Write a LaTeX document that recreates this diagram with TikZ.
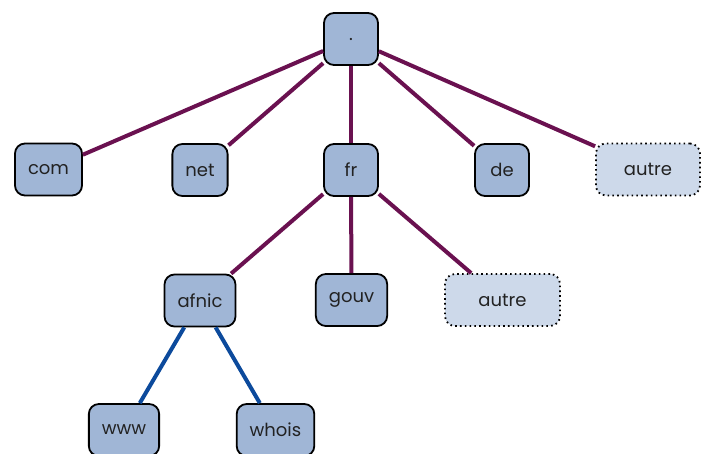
\documentclass[tikz,border=0pt]{standalone}
\usepackage{fontspec}
\setmainfont{Poppins}
\definecolor{domfill}{HTML}{A0B6D6}
\definecolor{otherfill}{HTML}{CDD9EA}
\definecolor{tldlink}{HTML}{6A1150}
\definecolor{hostlink}{HTML}{0C4A9C}
\definecolor{textcol}{HTML}{222222}
\tikzset{
  dom/.style={draw=black, line width=1.8pt, fill=domfill, rounded corners=10pt,
    minimum width=54pt, minimum height=52pt, inner xsep=13pt,
    font=\fontsize{18}{21}\selectfont, text=textcol},
  other/.style={dom, fill=otherfill, line width=1.8pt,
    dash pattern=on 1.6pt off 3.2pt},
  tld/.style={draw=tldlink, line width=4pt},
  host/.style={draw=hostlink, line width=4pt}
}
\begin{document}
\begin{tikzpicture}[x=1pt,y=-1pt]
\useasboundingbox (0,0) rectangle (702,453);
% root and top-level domains
\node[dom] (root) at (351,39) {.};
\node[dom] (com) at (48.5,169.5) {com};
\node[dom] (net) at (200,170) {net};
\node[dom] (fr) at (351,170) {fr};
\node[dom] (de) at (502,170) {de};
\node[other, minimum width=104pt] (autre1) at (648,169.5) {autre};
% second level under fr
\node[dom] (afnic) at (200,300.5) {afnic};
\node[dom] (gouv) at (351.5,300) {gouv};
\node[other, minimum width=115pt] (autre2) at (502.5,300) {autre};
% hosts under afnic
\node[dom] (www) at (124,430) {www};
\node[dom] (whois) at (275.5,430) {whois};
% links
\foreach \t in {com,net,fr,de,autre1} \draw[tld] (root) -- (\t);
\foreach \t in {afnic,gouv,autre2} \draw[tld] (fr) -- (\t);
\foreach \t in {www,whois} \draw[host] (afnic) -- (\t);
\end{tikzpicture}
\end{document}
